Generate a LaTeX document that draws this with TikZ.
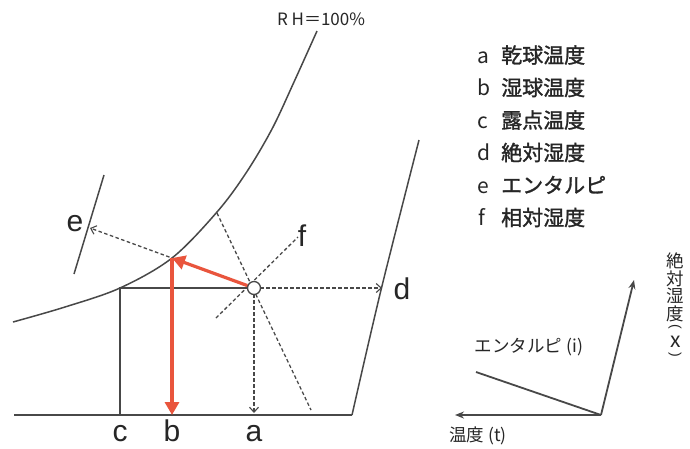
\documentclass[tikz,border=0pt]{standalone}
\usepackage{fontspec}
\setmainfont{Liberation Sans}
\newfontfamily\jp{Noto Sans CJK JP}
\newfontfamily\jpb[FakeBold=1.4]{Noto Sans CJK JP}
\usetikzlibrary{arrows.meta}
\definecolor{ln}{HTML}{484848}
\definecolor{rd}{HTML}{E9553D}
\begin{document}
\begin{tikzpicture}[x=1pt,y=-1pt,
  solidline/.style={draw=ln,line width=1.5},
  dsh/.style={draw=ln,line width=1.3,dash pattern=on 3.5pt off 2.5pt},
  barb/.style={-{Straight Barb[length=5,width=9,line width=1.1]}},
  redarrow/.style={draw=rd,line width=3.2,-{Triangle[length=13,width=14]}},
  axis/.style={draw=ln,line width=1.8},
  lbl/.style={font=\fontsize{30}{30}\selectfont,anchor=base,text=black!85,inner sep=0},
  legl/.style={font=\jp\fontsize{21}{21}\selectfont,anchor=base west,text=black!85,inner sep=0},
  leg/.style={font=\jpb\fontsize{21}{21}\selectfont,anchor=base west,text=black!85,inner sep=0},
  small/.style={font=\jp\fontsize{17.5}{18}\selectfont,anchor=base,text=black!85,inner sep=0},
  vparen/.style={font=\fontsize{14}{14}\selectfont,rotate=-90,text=black!85,inner sep=0}]
\useasboundingbox (0,0) rectangle (690,448);
\fill[white] (0,0) rectangle (690,448);
% key points
\coordinate (P) at (254,288);
\coordinate (C) at (120,288);
\coordinate (Cb) at (120,415);
\coordinate (L) at (14,415);
\coordinate (R) at (352,415);
\coordinate (Dm) at (381,290);
\coordinate (Dt) at (419,140);
\coordinate (W) at (172,258);
\coordinate (Wb) at (172,415);
\coordinate (Ee) at (90,228);
\coordinate (E1) at (104,175);
\coordinate (E2) at (74,274);
\coordinate (T1) at (217,213);
\coordinate (T2) at (311,410);
\coordinate (F1) at (216,318);
\coordinate (F2) at (298,237);
\coordinate (Ae) at (254,413);
\coordinate (De) at (382,288);
% saturation curve
\draw[solidline] plot[smooth,tension=0.55] coordinates {(13,322) (65,307) (120,288) (172,258) (217,212) (246,173) (272,129) (294,82) (317,31)};
\node[font=\jp\fontsize{17}{17}\selectfont,anchor=base,text=black!85,inner sep=0] (rh) at (321,25) {R H＝100\%};
% base and absolute humidity scale
\draw[solidline] (L) -- (R);
\draw[solidline] plot[smooth] coordinates {(R) (Dm) (Dt)};
% enthalpy scale
\draw[solidline] (E1) -- (E2);
% dew point lines
\draw[solidline] (P) -- (C) -- (Cb);
% dashed guides
\draw[dsh,barb] (P) -- (Ee);
\draw[dsh] (T1) -- (T2);
\draw[dsh] (F1) -- (F2);
\draw[dsh,barb] (P) -- (Ae);
\draw[dsh,barb] (P) -- (De);
% state point
\node[circle,draw=ln,fill=white,line width=1.3,minimum size=13,inner sep=0] (Pc) at (P) {};
% red arrows
\draw[redarrow] (Pc) -- (W);
\draw[redarrow] (W) -- (Wb);
% labels
\node[lbl] (la) at (254,441) {a};
\node[lbl] (lb) at (172,441) {b};
\node[lbl] (lc) at (120,441) {c};
\node[lbl] (ld) at (402,299) {d};
\node[lbl] (le) at (75,231) {e};
\node[lbl] (lf) at (302,246) {f};
% legend
\node[legl] (ka) at (477,63) {a};
\node[legl] (kb) at (477,95.5) {b};
\node[legl] (kc) at (477,128) {c};
\node[legl] (kd) at (477,160.5) {d};
\node[legl] (ke) at (477,193) {e};
\node[legl] (kf) at (478,225.5) {f};
\node[leg] (ta) at (501,63) {乾球温度};
\node[leg] (tb) at (501,95.5) {湿球温度};
\node[leg] (tc) at (501,128) {露点温度};
\node[leg] (td) at (501,160.5) {絶対湿度};
\node[leg] (te) at (501,193) {エンタルピ};
\node[leg] (tf) at (501,225.5) {相対湿度};
% axes at right
\coordinate (O) at (601,415);
\coordinate (Tx) at (455,415);
\coordinate (Ix) at (476,372);
\coordinate (Xx) at (634,280);
\draw[axis,-{Stealth[length=9,width=7]}] (O) -- (Tx);
\draw[axis] (O) -- (Ix);
\draw[axis,-{Stealth[length=9,width=7]}] (O) -- (Xx);
\node[small] (li) at (529,352) {エンタルピ (i)};
\node[small] (lt) at (478,441) {温度 (t)};
% vertical label
\node[font=\jp\fontsize{17.5}{17.5}\selectfont,align=center,anchor=north,text=black!85,inner sep=0] (lx) at (675,253) {絶\\対\\湿\\度};
\node[vparen] (lp1) at (675,327) {(};
\node[font=\jp\fontsize{21}{21}\selectfont,anchor=base,text=black!85,inner sep=0] (lxx) at (675.5,347) {x};
\node[vparen] (lp2) at (675,355) {)};
\end{tikzpicture}
\end{document}
